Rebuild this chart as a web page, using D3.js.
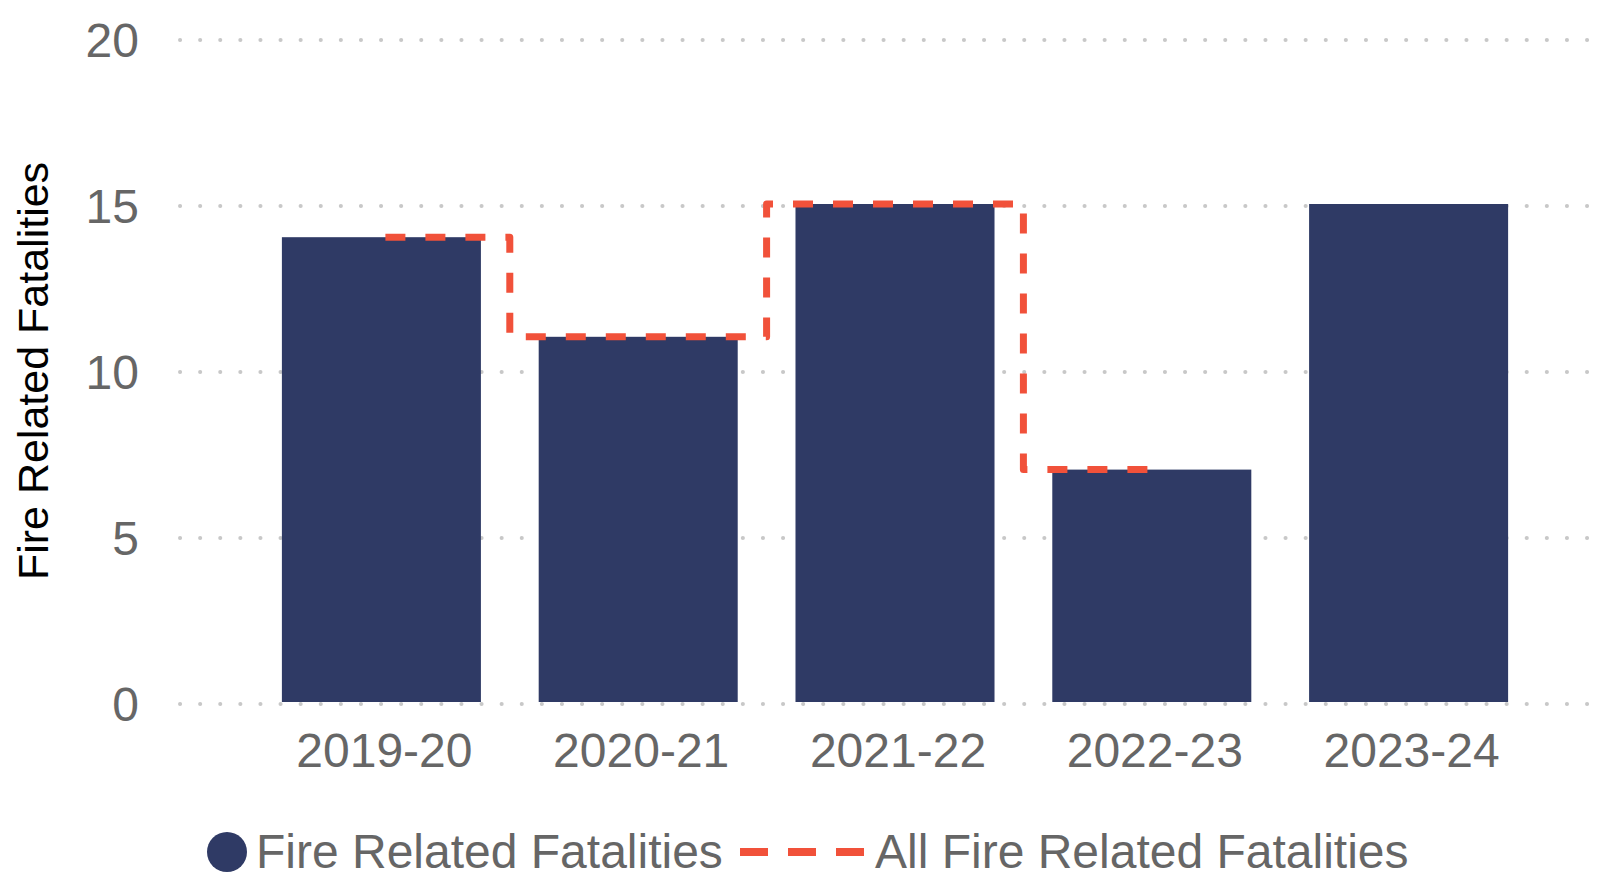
<!DOCTYPE html>
<html>
<head>
<meta charset="utf-8">
<script src="https://cdn.jsdelivr.net/npm/d3@7"></script>
<style>
body { margin: 0; background: #fff; }
svg { font-family: "Liberation Sans", Arial, sans-serif; }
</style>
</head>
<body>
<div id="chart"></div>
<script>
var years = ["2019-20", "2020-21", "2021-22", "2022-23", "2023-24"];
var fireFatalities = [14, 11, 15, 7, 15];
var allFireFatalities = [14, 11, 15, 7, null];
var yTicks = [0, 5, 10, 15, 20];

var width = 1607, height = 881;

var svg = d3.select("#chart").append("svg")
    .attr("width", width)
    .attr("height", height);

var x = d3.scaleBand()
    .domain(years)
    .range([253, 1537])
    .paddingInner(0.225)
    .paddingOuter(0.1125);

var y = d3.scaleLinear()
    .domain([0, 20])
    .range([704, 40]);

// dotted gridlines
svg.append("g").selectAll("line")
    .data(yTicks).enter()
    .append("line")
    .attr("x1", 180)
    .attr("x2", width)
    .attr("y1", function(d){ return y(d); })
    .attr("y2", function(d){ return y(d); })
    .attr("stroke", "#c8c8c8")
    .attr("stroke-width", 4)
    .attr("stroke-linecap", "round")
    .attr("stroke-dasharray", "0.1 20");

// y tick labels
svg.append("g").selectAll("text")
    .data(yTicks).enter()
    .append("text")
    .attr("x", 139)
    .attr("y", function(d){ return y(d); })
    .attr("dy", "0.35em")
    .attr("text-anchor", "end")
    .attr("fill", "#666")
    .style("font-size", "48px")
    .text(function(d){ return d; });

// plot group sits a touch above the grid, like the original
var plot = svg.append("g").attr("transform", "translate(0,-2)");

// bars
plot.append("g").selectAll("rect")
    .data(years).enter()
    .append("rect")
    .attr("x", function(d){ return x(d); })
    .attr("width", x.bandwidth())
    .attr("y", function(d, i){ return y(fireFatalities[i]); })
    .attr("height", function(d, i){ return y(0) - y(fireFatalities[i]); })
    .attr("fill", "#2f3a65");

// step line
var line = d3.line()
    .x(function(d){ return x(d[0]) + x.bandwidth() / 2; })
    .y(function(d){ return y(d[1]); })
    .curve(d3.curveStep);

plot.append("path")
    .datum(years.map(function(d, i){ return [d, allFireFatalities[i]]; }).filter(function(d){ return d[1] != null; }))
    .attr("d", line)
    .attr("fill", "none")
    .attr("stroke", "#f1513a")
    .attr("stroke-width", 7)
    .attr("stroke-linejoin", "round")
    .attr("stroke-dasharray", "20 20")
    .attr("stroke-dashoffset", -4);

// x labels
svg.append("g").selectAll("text")
    .data(years).enter()
    .append("text")
    .attr("x", function(d){ return x(d) + x.bandwidth() / 2 + 3; })
    .attr("y", 767)
    .attr("text-anchor", "middle")
    .attr("fill", "#666")
    .style("font-size", "48px")
    .text(function(d){ return d; });

// y axis title
svg.append("text")
    .attr("transform", "translate(48,371) rotate(-90)")
    .attr("text-anchor", "middle")
    .attr("fill", "#000")
    .style("font-size", "43px")
    .text("Fire Related Fatalities");

// legend
var legend = svg.append("g");
legend.append("circle")
    .attr("cx", 227)
    .attr("cy", 852)
    .attr("r", 20)
    .attr("fill", "#2f3a65");
legend.append("text")
    .attr("x", 256)
    .attr("y", 868)
    .attr("fill", "#666")
    .style("font-size", "48px")
    .text("Fire Related Fatalities");
legend.append("line")
    .attr("x1", 740)
    .attr("x2", 864)
    .attr("y1", 852)
    .attr("y2", 852)
    .attr("stroke", "#f1513a")
    .attr("stroke-width", 8)
    .attr("stroke-dasharray", "28 20");
legend.append("text")
    .attr("x", 875)
    .attr("y", 868)
    .attr("fill", "#666")
    .style("font-size", "48px")
    .text("All Fire Related Fatalities");
</script>
</body>
</html>
